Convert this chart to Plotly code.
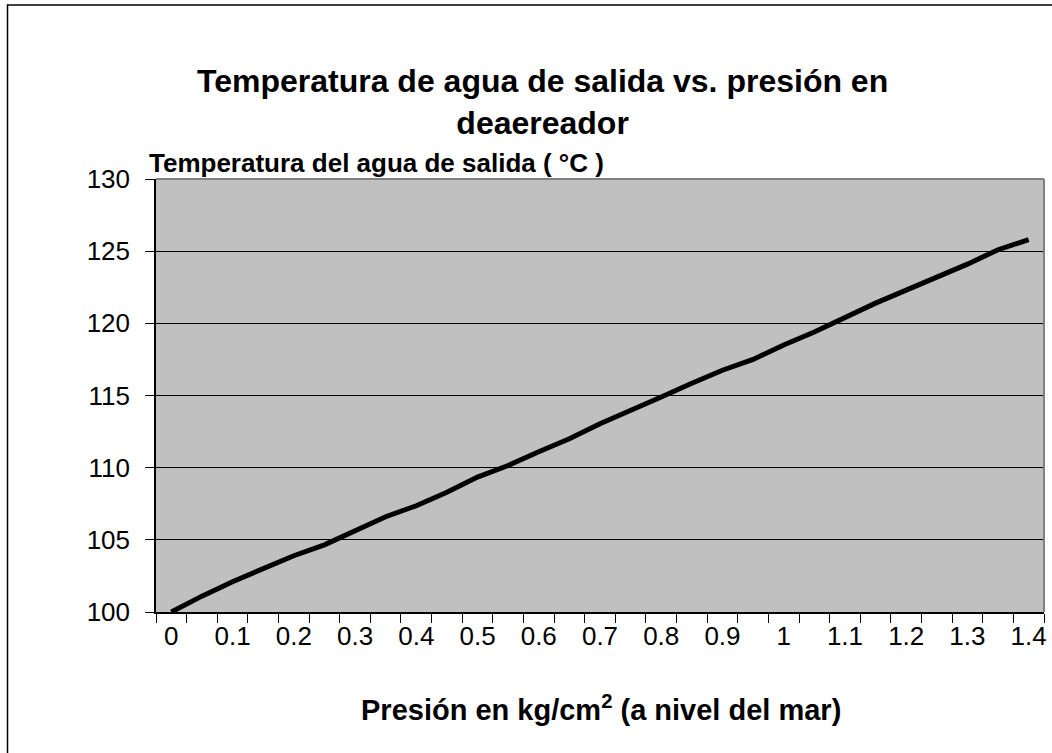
import plotly.graph_objects as go

# Data
presion = [round(0.05 * i, 2) for i in range(29)]  # categories 0 .. 1.4 step 0.05
temperatura = [100.0, 101.1, 102.1, 103.0, 103.9, 104.65, 105.6, 106.6, 107.36, 108.3,
               109.35, 110.15, 111.1, 112.0, 113.05, 113.95, 114.9, 115.85, 116.75, 117.5,
               118.5, 119.4, 120.4, 121.4, 122.3, 123.2, 124.1, 125.1, 125.8]

x_label_vals = [0, 0.1, 0.2, 0.3, 0.4, 0.5, 0.6, 0.7, 0.8, 0.9, 1.0, 1.1, 1.2, 1.3, 1.4]
x_label_text = ["0", "0.1", "0.2", "0.3", "0.4", "0.5", "0.6", "0.7", "0.8", "0.9", "1",
                "1.1", "1.2", "1.3", "1.4"]
y_ticks = [100, 105, 110, 115, 120, 125, 130]

title_l1 = "Temperatura de agua de salida vs. presión en"
title_l2 = "deaereador"
y_title = "Temperatura del agua de salida ( °C )"
x_title = "Presión en kg/cm<sup>2</sup> (a nivel del mar)"

FONT = "Liberation Sans, Arial, sans-serif"
W, H = 1052, 753

step = presion[1] - presion[0]
boundaries = [p - step / 2 for p in presion] + [presion[-1] + step / 2]

fig = go.Figure()
fig.add_trace(go.Scatter(x=presion, y=temperatura, mode="lines",
                         line=dict(color="black", width=5), showlegend=False,
                         hoverinfo="skip"))

fig.update_layout(
    width=W, height=H,
    margin=dict(l=156, r=5, t=179, b=141),
    paper_bgcolor="white",
    plot_bgcolor="#C0C0C0",
    font=dict(family=FONT, color="black"),
    showlegend=False,
)

fig.update_xaxes(
    range=[boundaries[0], boundaries[-1]],
    tickmode="array", tickvals=x_label_vals, ticktext=x_label_text,
    ticks="", showgrid=False, zeroline=False,
    showline=True, linecolor="black", linewidth=1.5,
    tickfont=dict(family=FONT, size=26, color="black"),
    minor=dict(tickvals=boundaries, ticks="outside", ticklen=9, tickcolor="black",
               tickwidth=1, showgrid=False),
)
fig.update_yaxes(
    range=[100, 130],
    tickmode="array", tickvals=y_ticks,
    ticks="outside", ticklen=9, tickcolor="black", tickwidth=1,
    showgrid=True, gridcolor="black", gridwidth=1, zeroline=False,
    showline=True, linecolor="black", linewidth=1.5,
    tickfont=dict(family=FONT, size=26, color="black"),
    ticklabelstandoff=10,
)

# gray top/right border of plot area
fig.add_shape(type="line", xref="x domain", yref="y domain", x0=0, x1=1, y0=1, y1=1,
              line=dict(color="#808080", width=2), layer="above")
fig.add_shape(type="line", xref="x domain", yref="y domain", x0=1, x1=1, y0=0, y1=1,
              line=dict(color="#808080", width=2), layer="above")
# outer chart frame
fig.add_shape(type="rect", xref="paper", yref="paper",
              x0=(7 - 156) / (W - 156 - 5), x1=1.05,
              y0=-0.5, y1=1 + (179 - 5) / (H - 179 - 141),
              line=dict(color="black", width=1.5), layer="below")

def px_x(px):
    return (px - 156) / (W - 156 - 5)

def px_y(py):
    return 1 - (py - 179) / (H - 179 - 141)

fig.add_annotation(text="<b>" + title_l1 + "<br>" + title_l2 + "</b>",
                   xref="paper", yref="paper", x=px_x(544), y=px_y(102),
                   xanchor="center", yanchor="middle", showarrow=False,
                   font=dict(family=FONT, size=32, color="black"), align="center")
fig.add_annotation(text="<b>" + y_title + "</b>",
                   xref="paper", yref="paper", x=px_x(147), y=px_y(163),
                   xanchor="left", yanchor="middle", showarrow=False,
                   font=dict(family=FONT, size=26, color="black"))
fig.add_annotation(text="<b>" + x_title + "</b>",
                   xref="paper", yref="paper", x=px_x(603), y=px_y(708),
                   xanchor="center", yanchor="middle", showarrow=False,
                   font=dict(family=FONT, size=29, color="black"))

fig.write_html("out.html", config={"displayModeBar": False},
               post_script="document.body.style.margin='0';document.body.style.padding='0';")
